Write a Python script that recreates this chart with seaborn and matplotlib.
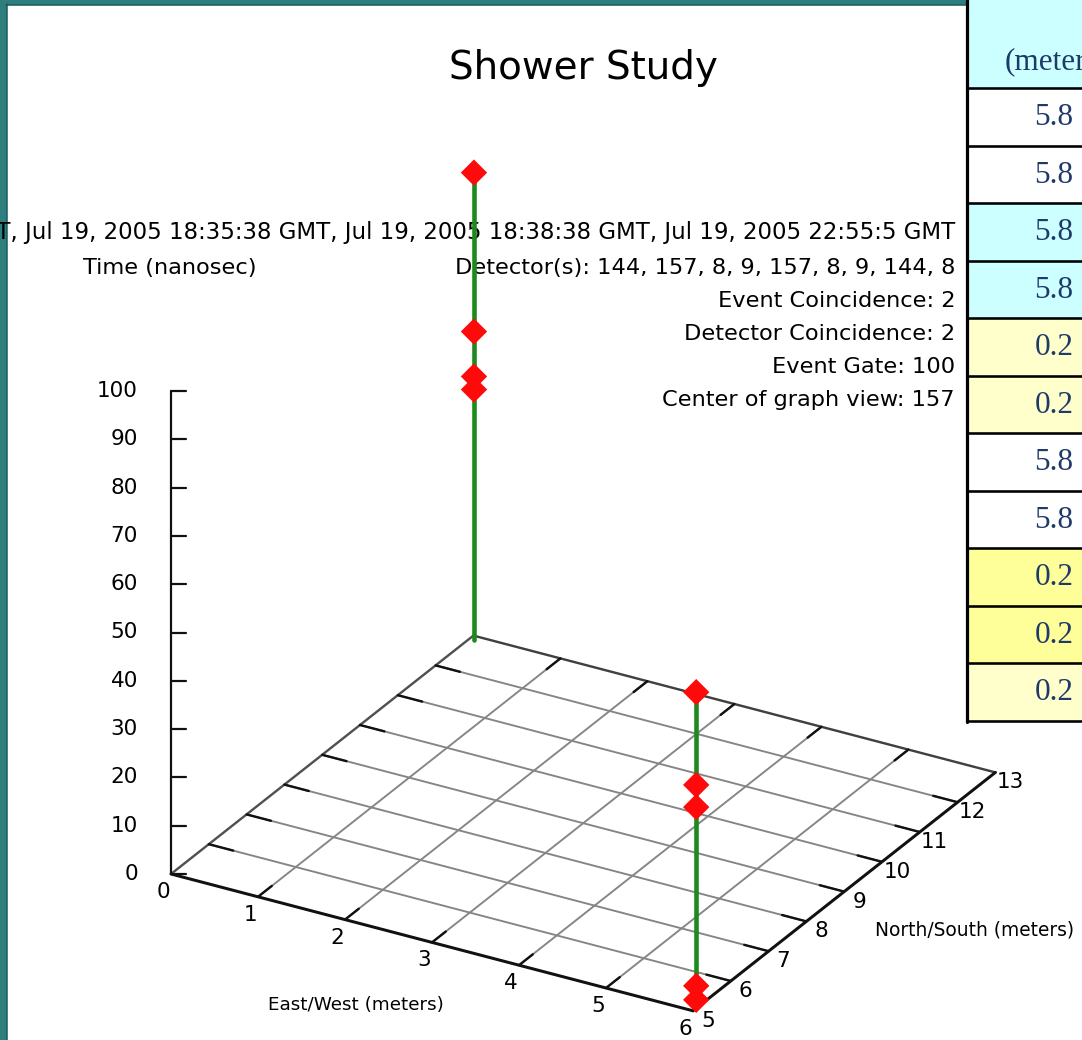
import numpy as np
import pandas as pd
import matplotlib
matplotlib.use("Agg")
import matplotlib.pyplot as plt
from matplotlib.patches import Rectangle
import seaborn as sns

# ---------------- data ----------------
title = "Shower Study"
date_line = ("GMT, Jul 19, 2005 18:35:38 GMT, Jul 19, 2005 18:38:38 GMT, "
             "Jul 19, 2005 22:55:5 GMT")
info_lines = [
    "Detector(s): 144, 157, 8, 9, 157, 8, 9, 144, 8",
    "Event Coincidence: 2",
    "Detector Coincidence: 2",
    "Event Gate: 100",
    "Center of graph view: 157",
]
time_label = "Time (nanosec)"
ew_label = "East/West (meters)"
ns_label = "North/South (meters)"

ew_ticks = [0, 1, 2, 3, 4, 5, 6]
ns_ticks = [5, 6, 7, 8, 9, 10, 11, 12, 13]
time_ticks = [0, 10, 20, 30, 40, 50, 60, 70, 80, 90, 100]

# counter positions on the floor (meters)
pole_name = ["rear", "front"]
pole_ew = [0.05, 5.95]
pole_ns = [12.9, 5.2]

# individual hits: which counter and arrival time (ns)
hit_pole = [0, 0, 0, 0, 1, 1, 1, 1, 1]
hit_time = [96.7, 63.8, 54.5, 51.8, 64.5, 45.3, 40.7, 3.7, 0.8]

# side table
table_header = "(meters)"
table_values = ["5.8", "5.8", "5.8", "5.8", "0.2", "0.2",
                "5.8", "5.8", "0.2", "0.2", "0.2"]
table_fill = ["#FFFFFF", "#FFFFFF", "#CCFFFF", "#CCFFFF", "#FFFFCC", "#FFFFCC",
              "#FFFFFF", "#FFFFFF", "#FFFF99", "#FFFF99", "#FFFFCC"]

# ---------------- oblique view ----------------
ORIGIN = np.array([171.0, 874.0])
EW_VEC = np.array([87.0, 22.8])
NS_VEC = np.array([37.8, -29.8])
T_VEC = np.array([0.0, -4.83])


def project(ew, ns, t=0.0):
    ew = np.asarray(ew, float)
    ns = np.asarray(ns, float) - ns_ticks[0]
    t = np.asarray(t, float)
    x = ORIGIN[0] + EW_VEC[0] * ew + NS_VEC[0] * ns + T_VEC[0] * t
    y = ORIGIN[1] + EW_VEC[1] * ew + NS_VEC[1] * ns + T_VEC[1] * t
    return x, y


sns.set_theme(style="white")
plt.rcParams["font.family"] = ["DejaVu Sans"]
plt.rcParams["text.color"] = "black"

W, H = 1082, 1040
fig = plt.figure(figsize=(W / 100, H / 100), dpi=100)
teal = "#2F7E7E"
fig.patch.set_facecolor(teal)
ax = fig.add_axes([0, 0, 1, 1])
ax.set_xlim(0, W)
ax.set_ylim(H, 0)
ax.axis("off")

PX = 0.72  # points per pixel

# slide panel
panel = Rectangle((7, 5), W, H, facecolor="white", edgecolor="none", zorder=0)
ax.add_patch(panel)
ax.plot([6.5, 6.5], [4, H], color="#125C5C", lw=1.5 * PX, zorder=0.5)
ax.plot([6, 967], [4.5, 4.5], color="#125C5C", lw=1.5 * PX, zorder=0.5)

# ---------------- floor grid ----------------
ew0, ew1 = ew_ticks[0], ew_ticks[-1]
ns0, ns1 = ns_ticks[0], ns_ticks[-1]
grid_kw = dict(color="#858585", lw=1.9 * PX, zorder=1, solid_capstyle="butt")
for ns in ns_ticks[1:-1]:
    ax.plot(*project([ew0, ew1], [ns, ns]), **grid_kw)
for ew in ew_ticks[1:-1]:
    ax.plot(*project([ew, ew], [ns0, ns1]), **grid_kw)

# edges of the floor
ax.plot(*project([ew0, ew0], [ns0, ns1]), color="#505050", lw=2.4 * PX, zorder=2)
ax.plot(*project([ew0, ew1], [ns1, ns1]), color="#404040", lw=2.4 * PX, zorder=2)
ax.plot(*project([ew0, ew1], [ns0, ns0]), color="#111111", lw=3.0 * PX, zorder=2)
ax.plot(*project([ew1, ew1], [ns0, ns1]), color="#111111", lw=3.0 * PX, zorder=2)

# short tick marks along the edges
tick_kw = dict(color="#111111", lw=2.4 * PX, zorder=2)
tl = 0.28
for ns in ns_ticks[1:-1]:
    ax.plot(*project([ew0, ew0 + tl], [ns, ns]), **tick_kw)
    ax.plot(*project([ew1, ew1 - tl], [ns, ns]), **tick_kw)
for ew in ew_ticks[1:-1]:
    ax.plot(*project([ew, ew], [ns0, ns0 + tl * 1.3]), **tick_kw)
    ax.plot(*project([ew, ew], [ns1, ns1 - tl * 1.3]), **tick_kw)

# ---------------- time axis ----------------
tick_fs = 15.5
zx, zy_bottom = project(ew0, ns0, 0)
_, zy_top = project(ew0, ns0, time_ticks[-1])
ax.plot([zx, zx], [zy_bottom, zy_top], color="#111111", lw=2.2 * PX, zorder=2)
for t in time_ticks:
    x, y = project(ew0, ns0, t)
    ax.plot([x, x + 15], [y, y], color="#111111", lw=2.2 * PX, zorder=2)
    ax.text(x - 33, y, f"{t}", ha="right", va="center", fontsize=tick_fs)

for ew in ew_ticks:
    x, y = project(ew, ns0)
    ax.text(x - 8, y + 18, f"{ew}", ha="center", va="center", fontsize=tick_fs)
for ns in ns_ticks:
    x, y = project(ew1, ns)
    ax.text(x + 15, y + 10, f"{ns}", ha="center", va="center", fontsize=tick_fs)

ax.text(356, 1005, ew_label, ha="center", va="center", fontsize=13.2)
ax.text(975, 930, ns_label, ha="center", va="center", fontsize=13.4)

# ---------------- header texts ----------------
info_fs = 16.2
ax.text(583, 68, title, ha="center", va="center", fontsize=28)
dt = ax.text(955, 232, date_line, ha="right", va="center", fontsize=16.5, zorder=1)
dt.set_clip_path(panel)
ax.text(170, 268, time_label, ha="center", va="center", fontsize=info_fs, zorder=1)
for i, line in enumerate(info_lines):
    ax.text(955, 268 + 33 * i, line, ha="right", va="center", fontsize=info_fs, zorder=1)

# ---------------- counters and hits ----------------
pole_rows = []
for i, name in enumerate(pole_name):
    top = max(t for p, t in zip(hit_pole, hit_time) if p == i)
    for t in (0.0, top):
        x, y = project(pole_ew[i], pole_ns[i], t)
        pole_rows.append({"pole": name, "x": float(x), "y": float(y)})
poles = pd.DataFrame(pole_rows)
sns.lineplot(data=poles, x="x", y="y", units="pole", estimator=None, sort=False,
             color="#1C8A1C", lw=4.6 * PX, ax=ax, zorder=4)

hx, hy = project(np.array(pole_ew)[hit_pole], np.array(pole_ns)[hit_pole], hit_time)
hits = pd.DataFrame({"x": hx, "y": hy, "pole": [pole_name[p] for p in hit_pole]})
sns.scatterplot(data=hits, x="x", y="y", marker="D", s=180, color="#FF0A0A",
                edgecolor="none", linewidth=0, ax=ax, zorder=5, legend=False)

ax.set_xlim(0, W)
ax.set_ylim(H, 0)
ax.axis("off")

# ---------------- side table ----------------
tx0 = 967
row_h = 57.5
head_h = 88
cell_fs = 22.5
ax.add_patch(Rectangle((tx0, 0), 200, head_h, facecolor="#CCFFFF",
                       edgecolor="none", zorder=6))
ax.text(1005, 62, table_header, ha="left", va="center", fontsize=cell_fs,
        family="Liberation Serif", color="#1F3A68", zorder=7)
for i, (val, fill) in enumerate(zip(table_values, table_fill)):
    y0 = head_h + i * row_h
    ax.add_patch(Rectangle((tx0, y0), 200, row_h, facecolor=fill,
                           edgecolor="none", zorder=6))
    ax.text(1054, y0 + row_h / 2 + 1, val, ha="center", va="center", fontsize=cell_fs,
            family="Liberation Serif", color="#1F3A68", zorder=7)
table_bottom = head_h + len(table_values) * row_h
for i in range(len(table_values) + 1):
    y = head_h + i * row_h
    ax.plot([tx0, W + 5], [y, y], color="black", lw=2.6 * PX, zorder=8)
ax.plot([tx0, tx0], [0, table_bottom + 1], color="black", lw=3.2 * PX, zorder=8)

fig.savefig("out.png", dpi=100, facecolor=fig.get_facecolor())
